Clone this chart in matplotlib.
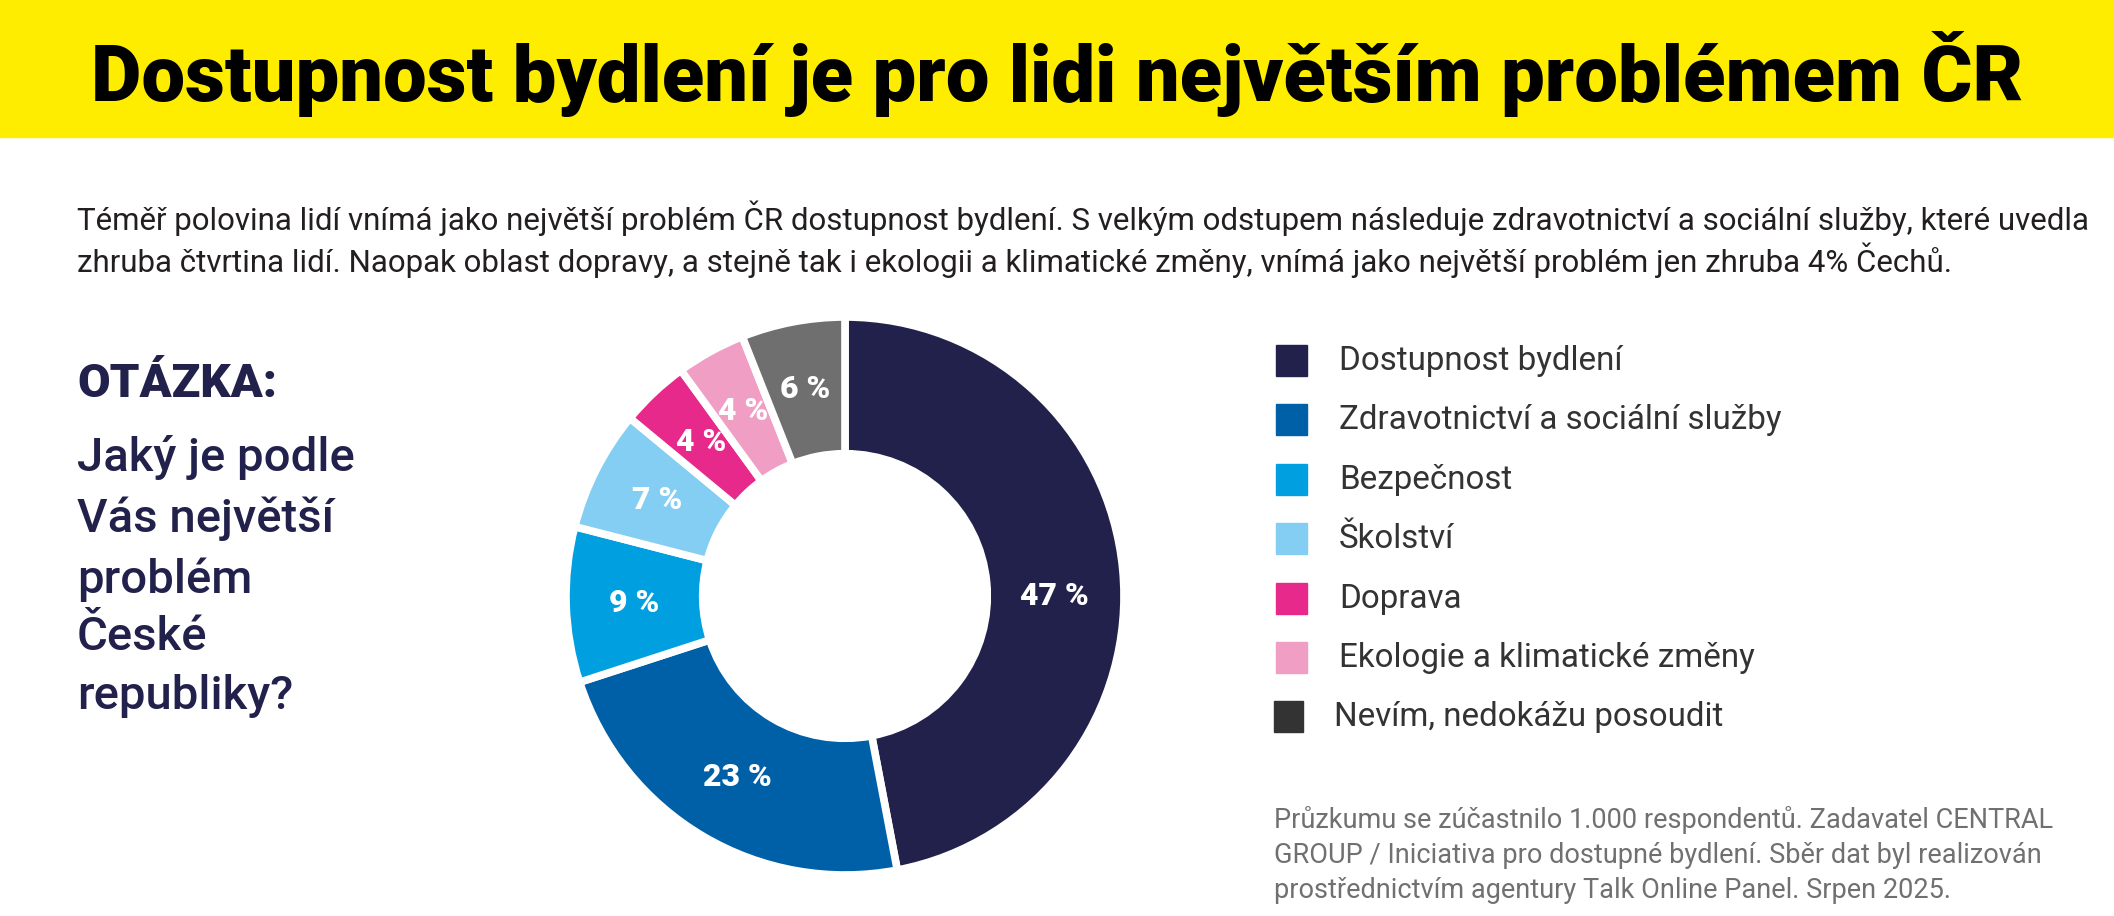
import matplotlib
matplotlib.use("Agg")
import matplotlib.pyplot as plt
from matplotlib.patches import Rectangle

# ---------------- data ----------------
categories = ["Dostupnost bydlení", "Zdravotnictví a sociální služby", "Bezpečnost",
              "Školství", "Doprava", "Ekologie a klimatické změny", "Nevím, nedokážu posoudit"]
values = [47, 23, 9, 7, 4, 4, 6]
slice_colors = ["#21214B", "#0060A7", "#009FE0", "#84CEF3", "#E6298A", "#F09EC4", "#6F6F6F"]
legend_colors = ["#21214B", "#0060A7", "#009FE0", "#84CEF3", "#E6298A", "#F09EC4", "#333333"]

title = "Dostupnost bydlení je pro lidi největším problémem ČR"
subtitle_lines = [
    "Téměř polovina lidí vnímá jako největší problém ČR dostupnost bydlení. S velkým odstupem následuje zdravotnictví a sociální služby, které uvedla",
    "zhruba čtvrtina lidí. Naopak oblast dopravy, a stejně tak i ekologii a klimatické změny, vnímá jako největší problém jen zhruba 4% Čechů.",
]
question_head = "OTÁZKA:"
question_lines = ["Jaký je podle", "Vás největší", "problém", "České", "republiky?"]
footnote_lines = [
    "Průzkumu se zúčastnilo 1.000 respondentů. Zadavatel CENTRAL",
    "GROUP / Iniciativa pro dostupné bydlení. Sběr dat byl realizován",
    "prostřednictvím agentury Talk Online Panel. Srpen 2025.",
]

W, H = 2114, 916
FONT = "Roboto"
plt.rcParams["font.family"] = [FONT, "DejaVu Sans"]

fig = plt.figure(figsize=(W / 100, H / 100), dpi=100)
fig.patch.set_facecolor("white")

ov = fig.add_axes([0, 0, 1, 1])
ov.set_xlim(0, W)
ov.set_ylim(H, 0)
ov.axis("off")

renderer = fig.canvas.get_renderer()


def fit(t, target_w):
    w = t.get_window_extent(renderer).width
    t.set_fontsize(t.get_fontsize() * target_w / w)
    return t.get_fontsize()


# yellow header band
ov.add_patch(Rectangle((0, 0), W, 137, color="#FFED00", zorder=0))
tt = ov.text(W / 2, 101, title, ha="center", va="baseline", fontsize=50,
             fontweight="heavy", color="#000000")
fit(tt, 1934)

# subtitle
s1 = ov.text(77, 230, subtitle_lines[0], ha="left", va="baseline", fontsize=20, color="#231F20")
fs = fit(s1, 2010)
ov.text(77, 272, subtitle_lines[1], ha="left", va="baseline", fontsize=fs, color="#231F20")

# question block
navy = "#21214B"
ov.text(77, 397, question_head, ha="left", va="baseline", fontsize=34,
        fontweight="heavy", color=navy)
q_base = [471, 532, 593, 650, 709]
for yb, line in zip(q_base, question_lines):
    ov.text(77, yb, line, ha="left", va="baseline", fontsize=34,
            fontweight="medium", color=navy)

# donut
cx, cy, R = 845, 596, 279
pax = fig.add_axes([(cx - R) / W, (H - cy - R) / H, 2 * R / W, 2 * R / H])
wedges, _, autotexts = pax.pie(
    values, colors=slice_colors, startangle=90, counterclock=False, radius=1.0,
    wedgeprops=dict(width=0.49, edgecolor="white", linewidth=5.5),
    autopct=lambda p: f"{round(p):d} %", pctdistance=0.755,
    textprops=dict(color="white", fontsize=23, fontweight="heavy"))
# the largest label sits level with the donut centre in the original
autotexts[0].set_y(0)
pax.set_xlim(-1, 1)
pax.set_ylim(-1, 1)
pax.set_aspect("equal")
pax.axis("off")

# legend
leg_y = [360, 419.5, 479, 538.5, 598, 657.5, 716]
sq = 31
legend_texts = []
for i, (cat, col, yc) in enumerate(zip(categories, legend_colors, leg_y)):
    x0 = 1276 if i < 6 else 1274
    ov.add_patch(Rectangle((x0, yc - sq / 2), sq if i < 6 else sq - 2, sq, color=col, zorder=2))
    tx = 1339 if i < 6 else 1334
    legend_texts.append(ov.text(tx, yc + 10, cat, ha="left", va="baseline",
                                fontsize=22, color="#333333"))
lfs = fit(legend_texts[1], 443)
for t in legend_texts:
    t.set_fontsize(lfs)

# footnote
f_base = [828, 863, 898]
fts = []
for yb, line in zip(f_base, footnote_lines):
    fts.append(ov.text(1274, yb, line, ha="left", va="baseline", fontsize=17, color="#707070"))
ffs = fit(fts[1], 768)
for t in fts:
    t.set_fontsize(ffs)

fig.savefig("out.png", dpi=100, facecolor="white")
